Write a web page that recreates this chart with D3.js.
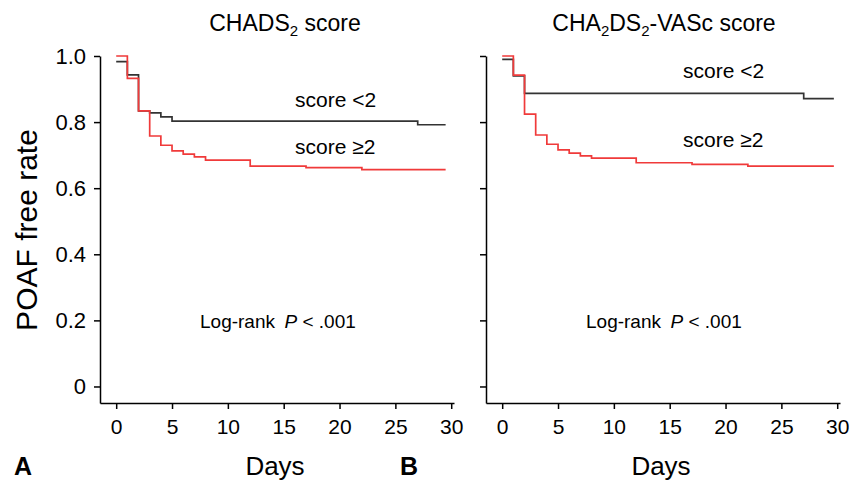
<!DOCTYPE html>
<html>
<head>
<meta charset="utf-8">
<script src="https://cdn.jsdelivr.net/npm/d3@7/dist/d3.min.js"></script>
<style>
  html, body { margin: 0; padding: 0; background: #fff; }
  svg { display: block; font-family: "Liberation Sans", Arial, sans-serif; }
  .axis path, .axis line { stroke: #000; stroke-width: 1.5; }
  .axis text { fill: #000; }
</style>
</head>
<body>
<svg id="chart" width="852" height="481"></svg>
<script>
// Kaplan-Meier curves (days, POAF free rate)
const xTicks = [0, 5, 10, 15, 20, 25, 30];
const yTicks = [0, 0.2, 0.4, 0.6, 0.8, 1.0];

const chadsLowDays  = [0, 1, 2, 3, 4, 5, 27, 29.5];
const chadsLowRate  = [0.983, 0.943, 0.834, 0.828, 0.816, 0.803, 0.792, 0.792];
const chadsHighDays = [0, 1, 2, 3, 4, 5, 6, 7, 8, 12, 17, 22, 29.5];
const chadsHighRate = [1.0, 0.932, 0.834, 0.758, 0.730, 0.713, 0.703, 0.695, 0.685, 0.667, 0.662, 0.656, 0.656];

const vascLowDays  = [0, 1, 2, 27, 29.7];
const vascLowRate  = [0.99, 0.94, 0.887, 0.871, 0.871];
const vascHighDays = [0, 1, 2, 3, 4, 5, 6, 7, 8, 12, 17, 22, 29.7];
const vascHighRate = [1.0, 0.942, 0.824, 0.761, 0.733, 0.716, 0.706, 0.698, 0.691, 0.677, 0.672, 0.667, 0.667];

const panels = [
  {
    left: 100, letter: 'A', showYLabels: true, titleX: 285,
    title: [['CHADS', 0], ['2', 1], [' score', 0]],
    low: d3.zip(chadsLowDays, chadsLowRate),
    high: d3.zip(chadsHighDays, chadsHighRate),
    lowLabel: [295, 107], highLabel: [295, 154]
  },
  {
    left: 486, letter: 'B', showYLabels: false, titleX: 664,
    title: [['CHA', 0], ['2', 1], ['DS', 0], ['2', 1], ['-VASc score', 0]],
    low: d3.zip(vascLowDays, vascLowRate),
    high: d3.zip(vascHighDays, vascHighRate),
    lowLabel: [683, 78], highLabel: [683, 147]
  }
];

const svg = d3.select('#chart');
const plotW = 354, plotTop = 56, plotBottom = 403;

const y = d3.scaleLinear().domain([-0.05, 1.0]).range([plotBottom, plotTop]);

panels.forEach(p => {
  const x = d3.scaleLinear().domain([-1.45, 30.25]).range([p.left, p.left + plotW]);
  const g = svg.append('g');

  // axes
  g.append('g')
    .attr('class', 'axis')
    .attr('transform', `translate(0,${plotBottom})`)
    .call(d3.axisBottom(x).tickValues(xTicks).tickSize(6).tickSizeOuter(0).tickPadding(10))
    .call(a => a.selectAll('text').attr('font-size', 21));

  g.append('g')
    .attr('class', 'axis')
    .attr('transform', `translate(${p.left},0)`)
    .call(d3.axisLeft(y).tickValues(yTicks).tickSize(6).tickSizeOuter(0).tickPadding(8)
      .tickFormat(d => p.showYLabels ? (d === 0 ? '0' : d3.format('.1f')(d)) : ''))
    .call(a => a.selectAll('text').attr('font-size', 22));

  // curves
  const line = d3.line().x(d => x(d[0])).y(d => y(d[1])).curve(d3.curveStepAfter);
  g.append('path').datum(p.low)
    .attr('d', line).attr('fill', 'none')
    .attr('stroke', '#333').attr('stroke-width', 1.7);
  g.append('path').datum(p.high)
    .attr('d', line).attr('fill', 'none')
    .attr('stroke', '#f03a3a').attr('stroke-width', 1.7);

  // title with subscripts
  const t = g.append('text')
    .attr('x', p.titleX).attr('y', 31)
    .attr('text-anchor', 'middle').attr('font-size', 23);
  let sub = false;
  p.title.forEach(([s, isSub]) => {
    const ts = t.append('tspan').text(s);
    if (isSub && !sub) { ts.attr('dy', 5).attr('font-size', 15); sub = true; }
    else if (isSub) { ts.attr('font-size', 15); }
    else if (sub) { ts.attr('dy', -5); sub = false; }
  });

  // curve labels
  g.append('text').attr('x', p.lowLabel[0]).attr('y', p.lowLabel[1])
    .attr('font-size', 21).text('score <2');
  g.append('text').attr('x', p.highLabel[0]).attr('y', p.highLabel[1])
    .attr('font-size', 21).text('score \u22652');

  // log-rank note
  const lr = g.append('text').attr('x', p.left + 100).attr('y', 328).attr('font-size', 19);
  lr.append('tspan').text('Log-rank\u2002');
  lr.append('tspan').attr('font-style', 'italic').text('P');
  lr.append('tspan').text(' < .001');

  // x label and panel letter
  g.append('text').attr('x', p.left + plotW / 2 - 2).attr('y', 475)
    .attr('text-anchor', 'middle').attr('font-size', 26).text('Days');
  g.append('text').attr('x', p.left - 86).attr('y', 475)
    .attr('font-size', 25).attr('font-weight', 'bold').text(p.letter);
});

svg.append('text')
  .attr('transform', 'translate(37,230) rotate(-90)')
  .attr('text-anchor', 'middle').attr('font-size', 30)
  .text('POAF free rate');
</script>
</body>
</html>
